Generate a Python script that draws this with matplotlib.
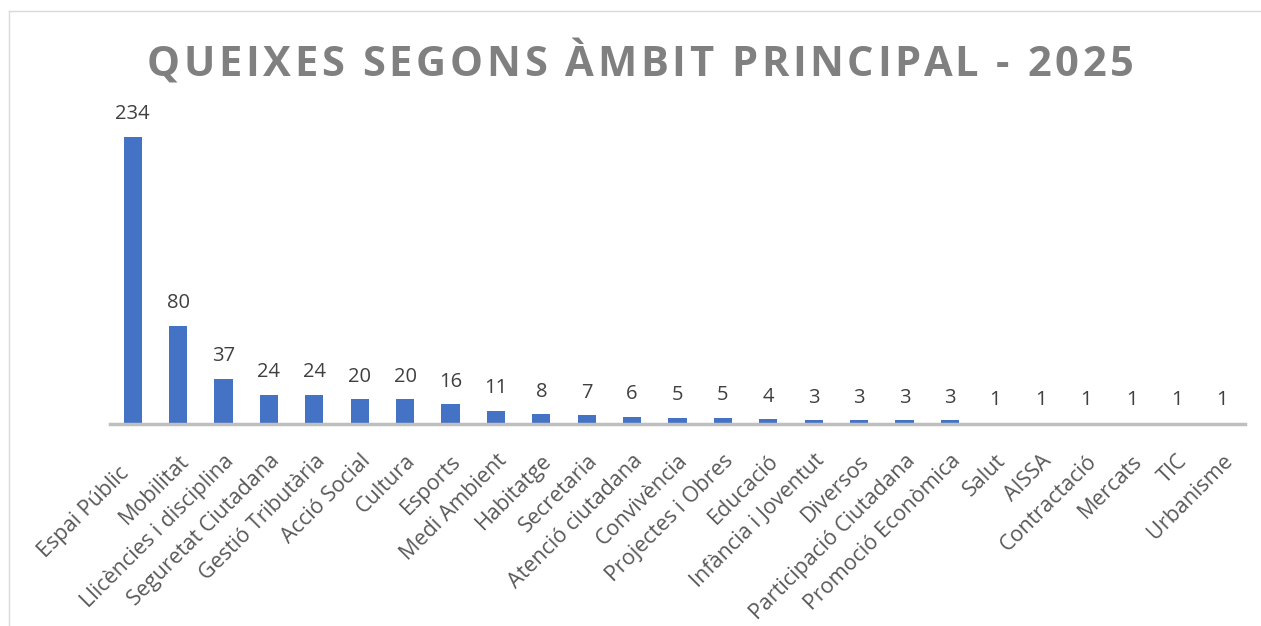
import matplotlib.pyplot as plt
from matplotlib.lines import Line2D
from matplotlib.transforms import ScaledTranslation
from matplotlib.font_manager import FontProperties
from matplotlib.textpath import TextToPath

# Data
categories = ['Espai Públic', 'Mobilitat', 'Llicències i disciplina', 'Seguretat Ciutadana',
              'Gestió Tributària', 'Acció Social', 'Cultura', 'Esports', 'Medi Ambient',
              'Habitatge', 'Secretaria', 'Atenció ciutadana', 'Convivència',
              'Projectes i Obres', 'Educació', 'Infància i Joventut', 'Diversos',
              'Participació Ciutadana', 'Promoció Econòmica', 'Salut', 'AISSA',
              'Contractació', 'Mercats', 'TIC', 'Urbanisme']
values = [234, 80, 37, 24, 24, 20, 20, 16, 11, 8, 7, 6, 5, 5, 4, 3, 3, 3, 3, 1, 1, 1, 1, 1, 1]
title = 'QUEIXES SEGONS ÀMBIT PRINCIPAL - 2025'

W, H = 1261, 626
fig = plt.figure(figsize=(W / 100, H / 100), dpi=100)

# Plot area
ax = fig.add_axes([110 / W, 1 - 424 / H, 1135 / W, 324 / H])
x = range(len(categories))
ax.bar(x, values, width=0.4, color='#4472C4', zorder=2)
ax.set_xlim(-0.5, len(categories) - 0.5)
ax.set_ylim(0, 324 / 1.227)

for xi, v in zip(x, values):
    ax.annotate(str(v), (xi, v), xytext=(0, 9), textcoords='offset points',
                ha='center', va='bottom', fontsize=14.5, color='#404040',
                family='Open Sans')

for s in ['top', 'right', 'left']:
    ax.spines[s].set_visible(False)
ax.spines['bottom'].set_color('#BFBFBF')
ax.spines['bottom'].set_linewidth(2.5)
ax.spines['bottom'].set_zorder(3)
ax.set_yticks([])
ax.set_xticks(list(x))
ax.set_xticklabels(categories, rotation=45, ha='right', va='top',
                   rotation_mode='anchor', fontsize=15.5, color='#595959',
                   family='Open Sans')
ax.tick_params(axis='x', length=0, pad=19)
for i, lab in enumerate(ax.get_xticklabels()):
    dx, dy = (0.0, 0.0) if i > 0 else (-0.14, -0.12)
    lab.set_transform(lab.get_transform() + ScaledTranslation(dx, dy, fig.dpi_scale_trans))

# Title with letter spacing, placed character by character
prop = FontProperties(family='Open Sans', weight='bold', size=30)
t2p = TextToPath()
def text_w(s):
    w, _, _ = t2p.get_text_width_height_descent(s, prop, ismath=False)
    return w * 100 / 72
spacing = 3.6
total = text_w(title) + spacing * (len(title) - 1)
x0 = 640 - total / 2
for i, ch in enumerate(title):
    xp = x0 + text_w(title[:i]) + spacing * i if i else x0
    fig.text(xp / W, 1 - 76 / H, ch, ha='left', va='baseline',
             fontproperties=prop, color='#808080')

# Border (top and left edges of the chart frame)
fig.add_artist(Line2D([9 / W, 1], [1 - 11 / H, 1 - 11 / H], color='#D9D9D9', lw=1))
fig.add_artist(Line2D([9 / W, 9 / W], [0, 1 - 11 / H], color='#D9D9D9', lw=1))

fig.savefig('out.png', dpi=100)
